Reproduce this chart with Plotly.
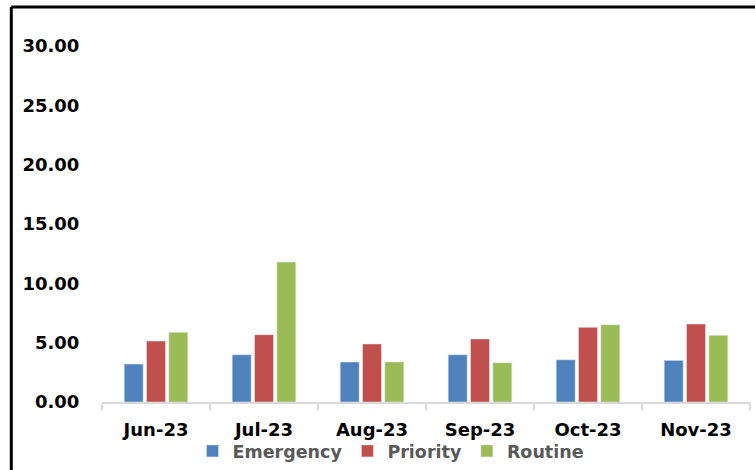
import plotly.graph_objects as go

months = ["Jun-23", "Jul-23", "Aug-23", "Sep-23", "Oct-23", "Nov-23"]
emergency = [3.20, 3.98, 3.37, 3.98, 3.56, 3.51]
priority = [5.14, 5.67, 4.89, 5.31, 6.29, 6.57]
routine = [5.87, 11.80, 3.37, 3.31, 6.51, 5.62]
y_ticks = [0, 5, 10, 15, 20, 25, 30]

W, H = 755, 470
L, R, T, B = 102, 5, 46, 68
pw, ph = W - L - R, H - T - B

fig = go.Figure()
for name, vals, col in [("Emergency", emergency, "#4F81BD"),
                        ("Priority", priority, "#C0504D"),
                        ("Routine", routine, "#9BBB59")]:
    fig.add_trace(go.Bar(x=months, y=vals, name=name, marker_color=col))

font = "DejaVu Sans"
fig.update_layout(
    width=W, height=H,
    margin=dict(l=L, r=R, t=T, b=B, pad=0, autoexpand=False),
    paper_bgcolor="white", plot_bgcolor="white",
    barmode="group", bargap=0.38, bargroupgap=0.15,
    font=dict(family=font, size=18, color="black"),
    showlegend=True,
    legend=dict(orientation="h", x=0.5 - 35 / pw, xanchor="center", xref="paper",
                y=(H - 451) / H, yanchor="middle", yref="container",
                bgcolor="rgba(0,0,0,0)",
                font=dict(family=font, size=17.5, color="#595959", weight="bold"),
                itemwidth=30, traceorder="normal"),
    xaxis=dict(type="category", showgrid=False, zeroline=False, automargin=False,
               showline=True, linecolor="#D9D9D9", linewidth=2,
               ticks="outside", tickson="boundaries", ticklen=6, tickcolor="#D9D9D9",
               tickwidth=2, ticklabelstandoff=10,
               tickfont=dict(family=font, size=18, color="black", weight="bold")),
    yaxis=dict(range=[0, 30], tickvals=y_ticks, tickformat=".2f", automargin=False,
               showgrid=False, zeroline=False, showline=False,
               ticks="outside", ticklen=18, tickcolor="rgba(0,0,0,0)",
               tickfont=dict(family=font, size=18, color="black", weight="bold")),
)

xl = (11.3 - L) / pw
yt = (H - B - 7) / ph
fig.add_shape(type="line", xref="paper", yref="paper", x0=xl, x1=xl, y0=-0.4, y1=yt,
              line=dict(color="black", width=3))
fig.add_shape(type="line", xref="paper", yref="paper", x0=xl, x1=1.1, y0=yt, y1=yt,
              line=dict(color="black", width=3))

fig.write_html("out.html", config={"displayModeBar": False},
               post_script="document.body.style.margin='0';")
